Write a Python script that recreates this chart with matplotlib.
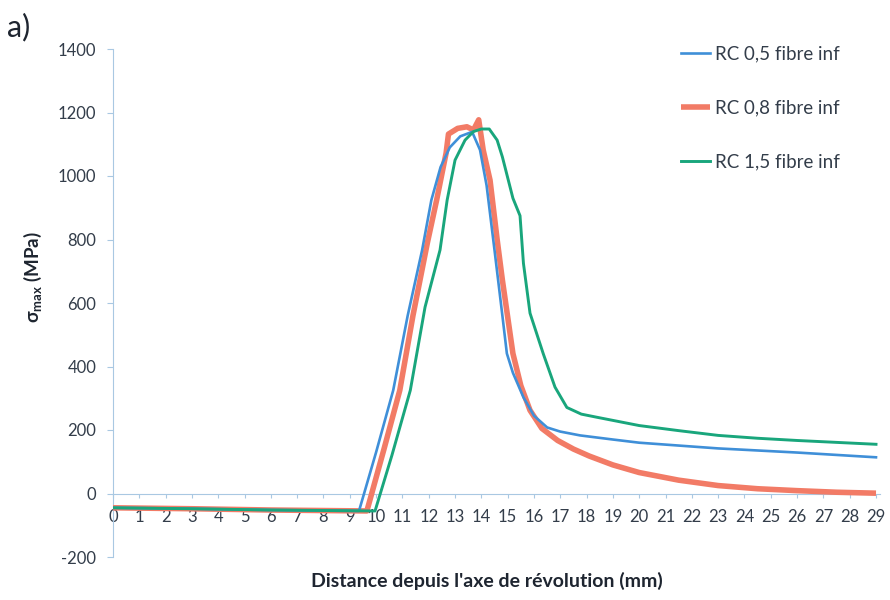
import matplotlib
matplotlib.use("Agg")
import matplotlib.pyplot as plt

plt.rcParams['font.family'] = ['Lato', 'DejaVu Sans']
plt.rcParams['axes.unicode_minus'] = False

# RC 0,5 fibre inf
x_05 = [0, 3, 6, 9.35, 10.0, 10.65, 11.2, 11.75, 12.1, 12.45, 12.8, 13.2, 13.65, 13.95, 14.2,
        14.5, 14.8, 14.97, 15.2, 15.6, 16.0, 16.5, 17.0, 17.75, 19, 20, 23, 26, 29]
y_05 = [-45, -48, -52, -55, 130, 325, 560, 767, 924, 1028, 1090, 1125, 1139, 1082, 970,
        767, 560, 441, 380, 303, 245, 208, 195, 183, 170, 160, 142, 129, 114]

# RC 0,8 fibre inf
x_08 = [0, 3, 6, 9.65, 10.3, 10.9, 11.4, 11.95, 12.3, 12.66, 12.75, 13.1, 13.45, 13.7, 13.9,
        14.07, 14.33, 14.6, 14.8, 15.2, 15.5, 15.85, 16.3, 16.9, 17.5, 18.1, 19, 20, 21.5,
        23, 24.5, 26, 27.5, 29]
y_08 = [-45, -48, -52, -55, 140, 325, 560, 790, 924, 1072, 1132, 1150, 1155, 1145, 1177,
        1082, 987, 800, 672, 441, 340, 262, 205, 167, 140, 118, 90, 66, 42,
        25, 15, 9, 4, 1]

# RC 1,5 fibre inf
x_15 = [0, 3, 6, 9.96, 10.6, 11.3, 11.86, 12.43, 12.7, 13.0, 13.38, 13.7, 14.0, 14.3, 14.6,
        14.8, 15.2, 15.47, 15.6, 15.85, 16.35, 16.8, 17.25, 17.8, 18.4, 20, 21.5, 23, 24.5,
        26, 27.5, 29]
y_15 = [-45, -48, -52, -55, 120, 325, 587, 767, 924, 1050, 1113, 1140, 1148, 1148, 1113,
        1060, 930, 875, 725, 568, 441, 335, 271, 250, 240, 214, 198, 183, 174,
        167, 161, 155]

labels = ['RC 0,5 fibre inf', 'RC 0,8 fibre inf', 'RC 1,5 fibre inf']
x_ticks = list(range(0, 30))
y_ticks = list(range(-200, 1401, 200))

axis_col = '#a9c8e2'
text_col = '#333d4a'

fig = plt.figure(figsize=(8.9, 6.0), dpi=100)
ax = fig.add_axes([113 / 890, 1 - 557 / 600, (880 - 113) / 890, (557 - 49) / 600])

l1, = ax.plot(x_05, y_05, color='#3f8fd8', lw=1.9, zorder=4)
l2, = ax.plot(x_08, y_08, color='#f27b66', lw=4.0, zorder=3, solid_capstyle='butt')
l3, = ax.plot(x_15, y_15, color='#19a67c', lw=2.1, zorder=5)

ax.set_xlim(0, 29 * (880 - 113) / (876 - 113))
ax.set_ylim(-200, 1400)

for s in ['top', 'right']:
    ax.spines[s].set_visible(False)
ax.spines['bottom'].set_position(('data', 0))
ax.spines['bottom'].set_color(axis_col)
ax.spines['left'].set_color(axis_col)

ax.set_xticks(x_ticks)
ax.set_yticks(y_ticks)
ax.tick_params(axis='x', direction='out', length=3, color=axis_col, pad=8,
               labelsize=12, labelcolor=text_col)
ax.tick_params(axis='y', direction='out', length=4, color=axis_col, pad=8,
               labelsize=12, labelcolor=text_col)

ax.set_xlabel("Distance depuis l'axe de révolution (mm)", fontsize=14,
              fontweight='bold', color='#1e2530')
ax.xaxis.set_label_coords(0.488, -0.03)
ax.set_ylabel(r'σ$_{\mathregular{max}}$ (MPa)', fontsize=13.5, fontweight='bold',
              color='#1e2530')
ax.yaxis.set_label_coords(-0.09, 0.551)

fig.text(0.008, 0.94, 'a)', fontsize=22, color='#1e2530')

fig.legend([l1, l2, l3], labels, loc='upper left', bbox_to_anchor=(672 / 890, 1 - 36 / 600),
           frameon=False, fontsize=13.5, labelspacing=1.98, handlelength=1.5,
           handletextpad=0.3, borderpad=0, labelcolor=text_col)

fig.savefig('out.png', dpi=100)
